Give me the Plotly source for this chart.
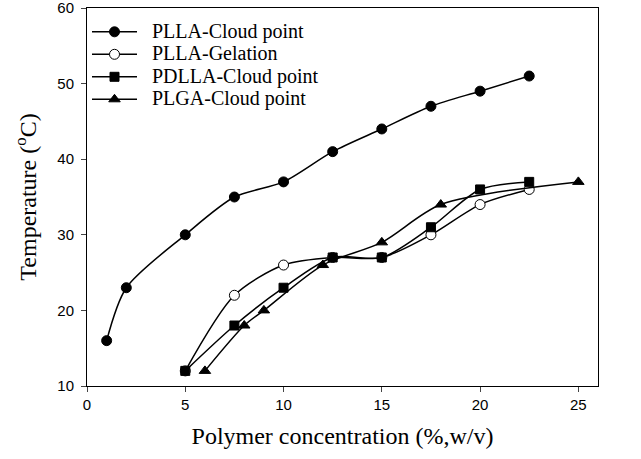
import plotly.graph_objects as go

plla_cp_x = [1, 2, 5, 7.5, 10, 12.5, 15, 17.5, 20, 22.5]
plla_cp_y = [16, 23, 30, 35, 37, 41, 44, 47, 49, 51]
plla_gel_x = [5, 7.5, 10, 12.5, 15, 17.5, 20, 22.5]
plla_gel_y = [12, 22, 26, 27, 27, 30, 34, 36]
pdlla_x = [5, 7.5, 10, 12.5, 15, 17.5, 20, 22.5]
pdlla_y = [12, 18, 23, 27, 27, 31, 36, 37]
plga_x = [6, 8, 9, 12, 15, 18, 25]
plga_y = [12, 18, 20, 26, 29, 34, 37]

x_ticks = [0, 5, 10, 15, 20, 25]
y_ticks = [10, 20, 30, 40, 50, 60]

SERIF = "Liberation Serif, Times New Roman, serif"
SANS = "Liberation Sans, Arial, sans-serif"

series = [
    ("PLLA-Cloud point", plla_cp_x, plla_cp_y, "circle", "black", 10),
    ("PLLA-Gelation", plla_gel_x, plla_gel_y, "circle", "white", 10),
    ("PDLLA-Cloud point", pdlla_x, pdlla_y, "square", "black", 9),
    ("PLGA-Cloud point", plga_x, plga_y, "triangle-up", "black", 10),
]

fig = go.Figure()
for name, xs, ys, sym, fill, size in series:
    fig.add_trace(go.Scatter(
        x=xs, y=ys, mode="lines+markers",
        name='<span style="font-size:20px">&nbsp;&nbsp;' + name + '</span>',
        line=dict(color="black", width=1.5, shape="spline", smoothing=0.8),
        marker=dict(symbol=sym, size=size, color=fill, line=dict(color="black", width=1)),
    ))

fig.update_layout(
    width=641, height=459,
    margin=dict(l=87, r=43, t=8, b=73, autoexpand=False),
    paper_bgcolor="white", plot_bgcolor="white",
    showlegend=True,
    legend=dict(x=0.0, y=0.98, xanchor="left", yanchor="top",
                bgcolor="rgba(0,0,0,0)",
                font=dict(family=SERIF, size=15, color="black"),
                itemwidth=45),
    xaxis=dict(range=[0, 26], tickvals=x_ticks, ticks="outside", ticklen=5,
               showline=True, linecolor="black", linewidth=1, mirror=True,
               showgrid=False, zeroline=False, automargin=False,
               ticklabeloverflow="allow",
               tickfont=dict(family=SANS, size=15, color="black"),
               title=dict(text="Polymer concentration (%,w/v)", standoff=15,
                          font=dict(family=SERIF, size=24, color="black"))),
    yaxis=dict(range=[10, 60], tickvals=y_ticks, ticks="outside", ticklen=5,
               showline=True, linecolor="black", linewidth=1, mirror=True,
               showgrid=False, zeroline=False, automargin=False,
               ticklabelstandoff=4, ticklabeloverflow="allow",
               tickfont=dict(family=SANS, size=15, color="black"),
               title=dict(text="Temperature (<sup>o</sup>C)", standoff=13,
                          font=dict(family=SERIF, size=24, color="black"))),
)

fig.write_html("out.html", config={"displayModeBar": False},
               post_script="document.body.style.margin='0';")
